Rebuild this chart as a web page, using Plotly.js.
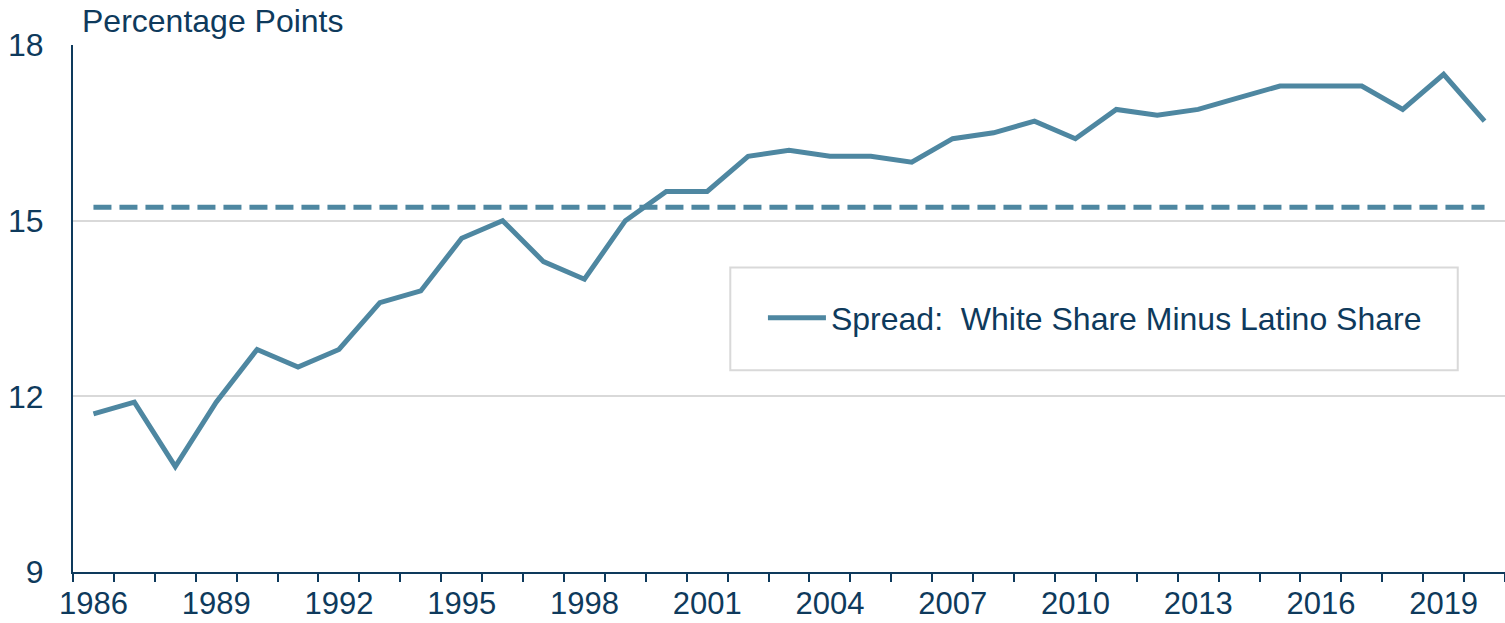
<!DOCTYPE html>
<html>
<head>
<meta charset="utf-8">
<script src="https://cdn.plot.ly/plotly-3.0.1.min.js"></script>
<style>
  html, body { margin: 0; padding: 0; background: #fff; }
  #chart { width: 1505px; height: 623px; }
</style>
</head>
<body>
<div id="chart"></div>
<script>
// values
const years = [1986, 1987, 1988, 1989, 1990, 1991, 1992, 1993, 1994, 1995,
  1996, 1997, 1998, 1999, 2000, 2001, 2002, 2003, 2004, 2005,
  2006, 2007, 2008, 2009, 2010, 2011, 2012, 2013, 2014, 2015,
  2016, 2017, 2018, 2019, 2020];
const spread = [11.7, 11.9, 10.8, 11.9, 12.8, 12.5, 12.8, 13.6, 13.8, 14.7,
  15.0, 14.3, 14.0, 15.0, 15.5, 15.5, 16.1, 16.2, 16.1, 16.1,
  16.0, 16.4, 16.5, 16.7, 16.4, 16.9, 16.8, 16.9, 17.1, 17.3,
  17.3, 17.3, 16.9, 17.5, 16.7];
const averageYears = [1986, 2020];
const averageValue = [15.23, 15.23];
const yearLabels = ['1986', '1989', '1992', '1995', '1998', '2001', '2004',
  '2007', '2010', '2013', '2016', '2019'];
const yTicks = [9, 12, 15, 18];

const navy = '#0e3a5c';
const lineBlue = '#4e87a1';
const fontFamily = '"Liberation Sans", Arial, sans-serif';

const spreadTrace = {
  x: years,
  y: spread,
  type: 'scatter',
  mode: 'lines',
  name: 'Spread:  White Share Minus Latino Share',
  line: { color: lineBlue, width: 5 }
};

const averageTrace = {
  x: averageYears,
  y: averageValue,
  type: 'scatter',
  mode: 'lines',
  showlegend: false,
  line: { color: lineBlue, width: 5, dash: '18px,8px' }
};

const layout = {
  width: 1505,
  height: 623,
  margin: { l: 73, r: 0, t: 45, b: 51 },
  paper_bgcolor: '#fff',
  plot_bgcolor: '#fff',
  font: { family: fontFamily, color: navy, size: 32 },
  showlegend: true,
  legend: {
    x: 0.4818, y: 0.482,
    xanchor: 'left', yanchor: 'middle',
    bgcolor: 'rgba(0,0,0,0)',
    borderwidth: 0,
    itemwidth: 58,
    font: { size: 32, color: navy }
  },
  shapes: [{
    type: 'rect', xref: 'paper', yref: 'paper',
    x0: 0.459, x1: 0.967, y0: 0.383, y1: 0.578,
    line: { color: '#d9d9d9', width: 2 },
    fillcolor: 'rgba(0,0,0,0)',
    layer: 'below'
  }],
  xaxis: {
    range: [1985.5, 2020.5],
    tickmode: 'array',
    tickvals: yearLabels.map(Number),
    ticktext: yearLabels,
    ticks: '',
    showgrid: false,
    zeroline: false,
    showline: true,
    linecolor: navy,
    linewidth: 2,
    ticklabelstandoff: 3,
    tickfont: { size: 31, color: navy },
    minor: {
      tickmode: 'linear',
      tick0: 1985.5,
      dtick: 1,
      ticks: 'outside',
      ticklen: 8,
      tickwidth: 2,
      tickcolor: navy,
      showgrid: false
    }
  },
  yaxis: {
    range: [9, 18],
    tickmode: 'array',
    tickvals: yTicks,
    ticks: '',
    showgrid: true,
    gridcolor: '#d9d9d9',
    gridwidth: 2,
    zeroline: false,
    showline: true,
    linecolor: navy,
    linewidth: 2,
    ticklabelstandoff: 21,
    tickfont: { size: 32, color: navy }
  },
  annotations: [{
    text: 'Percentage Points',
    xref: 'paper', yref: 'paper',
    x: 0, y: 1,
    xanchor: 'left', yanchor: 'bottom',
    xshift: 7, yshift: 4,
    showarrow: false,
    font: { size: 32, color: navy }
  }]
};

Plotly.newPlot('chart', [spreadTrace, averageTrace], layout, { displayModeBar: false, staticPlot: true });
</script>
</body>
</html>
